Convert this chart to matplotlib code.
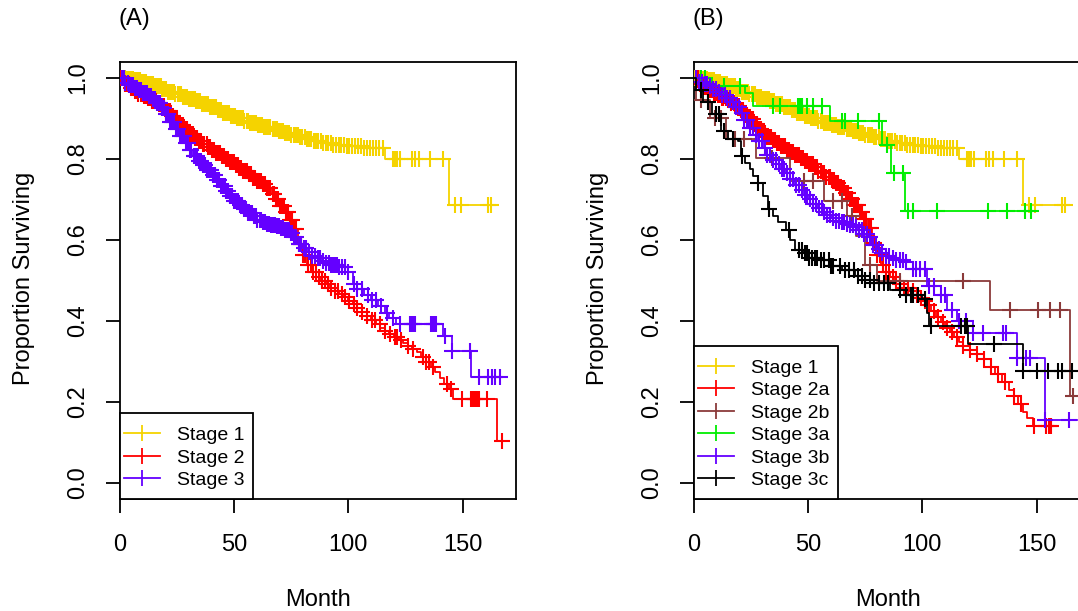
import numpy as np
import matplotlib
matplotlib.use("Agg")
import matplotlib.pyplot as plt
from matplotlib.lines import Line2D
from matplotlib.patches import Rectangle

plt.rcParams['font.family'] = ['Liberation Sans', 'DejaVu Sans']

# ---------------- data: panel A ----------------
a_s1_t = [0, 3, 6, 9, 12, 15, 18, 21, 24, 27, 30, 33, 36, 39, 42, 45, 48, 51, 54, 57, 60, 63, 66, 69,
          72, 75, 78, 81, 84, 88, 93, 99, 106, 116, 144]
a_s1_s = [1.0, 0.997, 0.994, 0.99, 0.985, 0.979, 0.972, 0.966, 0.96, 0.954, 0.949, 0.943, 0.935, 0.927,
          0.92, 0.913, 0.906, 0.9, 0.894, 0.889, 0.884, 0.879, 0.874, 0.869, 0.865, 0.86, 0.855, 0.849,
          0.844, 0.84, 0.835, 0.831, 0.827, 0.80, 0.685]
a_s1_end = 164.7
a_s1_cens = [0.6, 1.4, 2.3, 3.1, 3.8, 4.7, 5.5, 6.2, 7.1, 7.9, 8.8, 9.6, 10.3, 11.2, 12.0, 12.9, 13.7, 14.4,
             15.3, 16.1, 17.0, 17.8, 18.5, 19.4, 20.2, 21.1, 21.9, 22.6, 23.5, 24.3, 25.2, 26.0, 26.8, 27.6,
             28.5, 29.3, 30.1, 31.0, 31.8, 32.7, 33.5, 34.3, 35.2, 36.0, 36.8, 37.7, 38.5, 39.4, 40.2, 41.0,
             41.9, 42.7, 43.6, 44.4, 45.2, 46.1, 46.9, 47.8, 48.6, 49.4, 50.3, 51.1, 52.0, 52.8, 53.7, 54.5,
             55.4, 56.2, 57.1, 58.0, 58.8, 59.7, 60.6, 61.4, 62.3, 63.2, 64.1, 65.0, 65.9, 66.8, 67.7, 68.6,
             69.5, 70.4, 71.3, 72.3, 73.2, 74.1, 75.0, 76.0, 76.9, 77.9, 78.8, 79.8, 80.8, 81.8, 82.8, 83.8,
             84.8, 85.8, 86.9, 87.9, 89.0, 90.1, 91.2, 92.3, 93.4, 94.5, 95.7, 96.8, 98.0, 99.2, 100.4,
             101.6, 102.9, 104.1, 105.4, 106.7, 108.0, 109.4, 110.8, 112.2, 113.6, 115.0, 119.6, 120.6,
             121.5, 122.7, 128.0, 129.0, 131.0, 135.8, 141.5, 146.5, 149.5, 161.0, 162.5]

a_s2_t = [0, 2, 4, 6, 8, 10, 12, 14, 16, 18, 20, 22, 24, 26, 28, 30, 32, 34, 36, 38, 40, 42, 44, 46, 48,
          50, 52, 54, 56, 58, 60, 62, 64, 66, 68, 70, 72, 74, 76, 78, 80, 82, 84, 86, 88, 90, 92, 94, 96,
          98, 100, 102, 104, 106, 108, 110, 112, 114, 116, 118, 120, 122, 124, 126, 128, 130, 132, 134,
          136, 138, 140, 142, 144, 146, 165]
a_s2_s = [1.0, 0.985, 0.976, 0.968, 0.961, 0.955, 0.95, 0.944, 0.938, 0.93, 0.918, 0.907, 0.896, 0.884,
          0.873, 0.862, 0.852, 0.845, 0.837, 0.829, 0.821, 0.814, 0.807, 0.8, 0.793, 0.785, 0.777, 0.769,
          0.762, 0.754, 0.746, 0.738, 0.727, 0.714, 0.7, 0.684, 0.668, 0.65, 0.628, 0.59, 0.562, 0.538,
          0.52, 0.508, 0.499, 0.49, 0.481, 0.474, 0.466, 0.458, 0.45, 0.441, 0.432, 0.423, 0.413, 0.403,
          0.393, 0.383, 0.375, 0.367, 0.359, 0.352, 0.345, 0.338, 0.331, 0.322, 0.31, 0.298, 0.287, 0.274,
          0.26, 0.245, 0.232, 0.206, 0.103]
a_s2_end = 168.5
a_s2_cens = [0.5, 1.3, 2.2, 3.0, 3.9, 4.7, 5.6, 6.4, 7.3, 8.1, 9.0, 9.8, 10.7, 11.5, 12.4, 13.2, 14.1, 14.9,
             15.8, 16.6, 17.5, 18.3, 19.2, 20.0, 20.9, 21.7, 22.6, 23.4, 24.3, 25.1, 26.0, 26.8, 27.7, 28.5,
             29.4, 30.2, 31.1, 31.9, 32.8, 33.6, 34.5, 35.3, 36.2, 37.0, 37.9, 38.7, 39.6, 40.4, 41.3, 42.1,
             43.0, 43.8, 44.7, 45.5, 46.4, 47.2, 48.1, 48.9, 49.8, 50.6, 51.5, 52.3, 53.2, 54.0, 54.9, 55.7,
             56.6, 57.4, 58.3, 59.1, 60.0, 60.8, 61.7, 62.5, 63.4, 64.2, 65.1, 65.9, 66.8, 67.6, 68.5, 69.3,
             70.2, 71.0, 71.9, 72.7, 73.6, 74.4, 75.3, 76.1, 77.0, 78.2, 79.1, 80.3, 81.2, 82.4, 83.6, 84.5,
             85.9, 87.0, 88.4, 89.6, 91.0, 92.5, 94.1, 95.6, 97.2, 98.7, 100.5, 102.3, 104.0, 106.1, 108.0,
             110.2, 111.5, 113.8, 116.0, 118.1, 120.4, 121.5, 123.0, 126.2, 128.3, 132.5, 134.0, 135.5,
             137.0, 143.0, 145.0, 149.7, 153.9, 154.8, 155.6, 156.4, 157.2, 160.6, 167.3]

a_s3_t = [0, 2, 4, 6, 8, 10, 12, 14, 16, 18, 20, 22, 24, 26, 28, 30, 32, 34, 36, 38, 40, 42, 44, 46, 48,
          50, 52, 54, 56, 58, 60, 62, 64, 66, 68, 70, 72, 74, 76, 78, 80, 82, 84, 86, 88, 90, 92, 96, 100,
          102, 104, 107, 110, 113, 116, 118, 121, 141.6, 145.3, 153.6]
a_s3_s = [1.0, 0.988, 0.982, 0.976, 0.97, 0.963, 0.955, 0.947, 0.938, 0.926, 0.91, 0.892, 0.874, 0.857,
          0.84, 0.823, 0.807, 0.795, 0.784, 0.773, 0.761, 0.747, 0.733, 0.72, 0.708, 0.697, 0.686, 0.675,
          0.666, 0.658, 0.65, 0.644, 0.64, 0.637, 0.634, 0.63, 0.624, 0.616, 0.608, 0.59, 0.579, 0.569,
          0.56, 0.554, 0.548, 0.543, 0.539, 0.532, 0.52, 0.49, 0.478, 0.465, 0.452, 0.437, 0.42, 0.408,
          0.391, 0.362, 0.325, 0.261]
a_s3_end = 167.0
a_s3_cens = [0.7, 1.6, 2.4, 3.3, 4.1, 5.0, 5.8, 6.7, 7.5, 8.4, 9.2, 10.1, 10.9, 11.8, 12.6, 13.5, 14.3, 15.2,
             16.0, 16.9, 17.7, 18.6, 19.4, 20.3, 21.1, 22.0, 22.8, 23.7, 24.5, 25.4, 26.2, 27.1, 27.9, 28.8,
             29.6, 30.5, 31.3, 32.2, 33.0, 33.9, 34.7, 35.6, 36.4, 37.3, 38.1, 39.0, 39.8, 40.7, 41.5, 42.4,
             43.2, 44.1, 44.9, 45.8, 46.6, 47.5, 48.3, 49.2, 50.0, 50.9, 51.7, 52.6, 53.4, 54.3, 55.1, 56.0,
             56.8, 57.7, 58.5, 59.4, 60.2, 61.1, 61.9, 62.8, 63.6, 64.5, 65.3, 66.2, 67.0, 67.9, 68.7, 69.6,
             70.4, 71.3, 72.1, 73.0, 73.8, 74.7, 75.5, 76.4, 77.2, 78.3, 79.4, 80.5, 81.6, 82.8, 84.0, 85.2,
             86.5, 87.7, 89.0, 90.2, 91.5, 92.4, 93.3, 94.2, 95.1, 96.0, 97.2, 98.5, 100.0, 102.5, 104.0,
             106.0, 108.5, 110.5, 112.0, 114.5, 117.0, 119.5, 122.6, 127.0, 127.8, 128.6, 129.4, 136.0,
             136.8, 137.6, 138.4, 142.5, 145.5, 153.2, 157.0, 161.3, 162.8, 164.3, 166.4]

# ---------------- data: panel B ----------------
b_s1_t = a_s1_t
b_s1_s = a_s1_s
b_s1_end = a_s1_end
b_s1_cens = a_s1_cens

b_s2a_t = [0, 2, 4, 6, 8, 10, 12, 14, 16, 18, 20, 22, 24, 26, 28, 30, 32, 34, 36, 38, 40, 42, 44, 46, 48,
           50, 52, 54, 56, 58, 60, 62, 64, 66, 68, 70, 72, 74, 76, 78, 80, 82, 84, 86, 88, 90, 92, 94, 96,
           98, 100, 102, 104, 106, 108, 110, 112, 114, 116, 118, 121, 124, 127, 130, 132, 135, 138, 140,
           142, 144, 146, 148.6]
b_s2a_s = [1.0, 0.986, 0.978, 0.97, 0.963, 0.957, 0.951, 0.945, 0.939, 0.931, 0.92, 0.909, 0.898, 0.886,
           0.875, 0.864, 0.854, 0.847, 0.839, 0.831, 0.823, 0.816, 0.809, 0.802, 0.795, 0.787, 0.779,
           0.771, 0.764, 0.756, 0.748, 0.74, 0.729, 0.716, 0.702, 0.686, 0.67, 0.652, 0.63, 0.592,
           0.563, 0.538, 0.52, 0.508, 0.499, 0.49, 0.481, 0.473, 0.465, 0.457, 0.449, 0.438, 0.425,
           0.41, 0.396, 0.383, 0.372, 0.36, 0.348, 0.338, 0.328, 0.318, 0.305, 0.285, 0.268, 0.25, 0.228,
           0.214, 0.195, 0.175, 0.16, 0.14]
b_s2a_end = 158.9
b_s2a_cens = [0.8, 1.7, 2.5, 3.4, 4.3, 5.1, 6.0, 6.9, 7.7, 8.6, 9.5, 10.3, 11.2, 12.1, 12.9, 13.8, 14.7,
              15.5, 16.4, 17.3, 18.1, 19.0, 19.9, 20.7, 21.6, 22.5, 23.3, 24.2, 25.1, 25.9, 26.8, 27.7,
              28.5, 29.4, 30.3, 31.1, 32.0, 32.9, 33.7, 34.6, 35.5, 36.3, 37.2, 38.1, 38.9, 39.8, 40.7,
              41.5, 42.4, 43.3, 44.1, 45.0, 45.9, 46.7, 47.6, 48.5, 49.3, 50.2, 51.1, 51.9, 52.8, 53.7,
              54.5, 55.4, 56.3, 57.1, 58.0, 58.9, 59.7, 60.6, 61.5, 62.3, 63.2, 64.1, 64.9, 65.8, 66.7,
              67.5, 68.4, 69.3, 70.1, 71.0, 71.9, 72.7, 73.6, 74.5, 75.4, 76.5, 77.6, 78.8, 80.0, 81.3,
              82.6, 84.0, 85.5, 87.0, 88.6, 90.2, 92.0, 93.8, 95.7, 97.6, 99.5, 101.0, 103.0, 105.0, 107.0,
              109.0, 111.0, 113.0, 115.0, 118.0, 121.0, 124.0, 127.0, 130.0, 133.0, 136.0, 140.0, 143.0,
              148.8, 154.0, 155.4, 156.2]

b_s2b_t = [0, 1, 7, 14, 27, 42, 57, 67, 71, 75, 80, 129.7, 164.7]
b_s2b_s = [1.0, 0.946, 0.90, 0.848, 0.802, 0.745, 0.695, 0.66, 0.609, 0.539, 0.498, 0.428, 0.214]
b_s2b_end = 166.5
b_s2b_cens = [3.0, 9.0, 12.0, 18.0, 22.0, 34.0, 48.0, 52.0, 61.0, 65.0, 69.0, 77.0, 90.0, 118.0,
              138.4, 150.8, 155.9, 160.3, 166.0]

b_s3a_t = [0, 8, 22.5, 26, 59.6, 82.2, 86.1, 92.2]
b_s3a_s = [1.0, 0.98, 0.963, 0.93, 0.893, 0.835, 0.765, 0.671]
b_s3a_end = 147.8
b_s3a_cens = [3.0, 5.0, 13.0, 20.0, 34.6, 37.7, 45.5, 46.5, 47.3, 49.5, 52.0, 56.0, 64.8, 66.3, 72.0,
              80.8, 84.4, 87.5, 91.7, 93.9, 96.1, 106.3, 128.9, 136.9, 145.0, 147.5]

b_s3b_t = [0, 2, 4, 6, 8, 10, 12, 14, 16, 18, 20, 22, 24, 26, 28, 30, 32, 34, 36, 38, 40, 42, 44, 46, 48,
           50, 52, 54, 56, 58, 60, 62, 64, 66, 68, 70, 72, 74, 76, 78, 80, 82, 84, 86, 88, 92, 96, 102,
           108, 111, 115, 122.3, 141.3, 153.7]
b_s3b_s = [1.0, 0.99, 0.985, 0.979, 0.973, 0.966, 0.958, 0.95, 0.941, 0.929, 0.913, 0.895, 0.877, 0.86,
           0.843, 0.826, 0.81, 0.798, 0.787, 0.776, 0.764, 0.75, 0.736, 0.723, 0.711, 0.7, 0.689, 0.678,
           0.669, 0.661, 0.653, 0.647, 0.643, 0.64, 0.636, 0.631, 0.624, 0.615, 0.606, 0.588, 0.578,
           0.568, 0.56, 0.555, 0.551, 0.545, 0.527, 0.485, 0.465, 0.428, 0.40, 0.37, 0.309, 0.155]
b_s3b_end = 167.6
b_s3b_cens = [0.9, 2.1, 3.4, 4.6, 5.9, 7.1, 8.4, 9.6, 10.9, 12.1, 13.4, 14.6, 15.9, 17.1, 18.4, 19.6,
              20.9, 22.1, 23.4, 24.6, 25.9, 27.1, 28.4, 29.6, 30.9, 32.1, 33.4, 34.6, 35.9, 37.1, 38.4,
              39.6, 40.9, 42.1, 43.4, 44.6, 45.9, 47.1, 48.4, 49.6, 50.9, 52.1, 53.4, 54.6, 55.9, 57.1,
              58.4, 59.6, 60.9, 62.1, 63.4, 64.6, 65.9, 67.1, 68.4, 69.6, 70.9, 72.1, 73.4, 74.6, 75.9,
              77.1, 78.4, 79.6, 81.0, 82.5, 84.0, 85.5, 87.0, 88.5, 90.0, 91.5, 93.0, 96.0, 97.0, 99.0,
              101.0, 103.0, 105.0, 108.0, 110.0, 113.0, 116.0, 119.0, 122.3, 126.5, 135.3, 136.7, 141.3,
              145.6, 147.1, 153.7, 164.4]

b_s3c_t = [0, 1, 4, 8, 12, 15, 19.3, 20.6, 22.5, 24.5, 26, 28, 30, 32.4, 34.5, 36.8, 40.3, 42, 44.2,
           47.7, 50, 55, 60, 65, 70.5, 75, 79, 86, 93, 100, 102, 103, 120.2, 144.2]
b_s3c_s = [1.0, 0.97, 0.94, 0.91, 0.87, 0.85, 0.843, 0.806, 0.79, 0.774, 0.757, 0.741, 0.708, 0.675,
           0.66, 0.643, 0.625, 0.6, 0.576, 0.568, 0.556, 0.55, 0.535, 0.525, 0.51, 0.50, 0.493, 0.477,
           0.465, 0.453, 0.42, 0.387, 0.344, 0.276]
b_s3c_end = 165.4
b_s3c_cens = [3.0, 6.0, 9.5, 11.0, 13.0, 17.0, 21.0, 28.0, 33.0, 41.5, 46.0, 47.5, 48.5, 49.5, 50.5,
              51.5, 53.0, 54.0, 55.5, 57.0, 59.0, 60.0, 61.0, 64.0, 66.0, 68.0, 70.0, 72.0, 73.5, 75.0,
              77.0, 79.0, 81.0, 83.0, 85.0, 90.0, 93.0, 95.0, 96.0, 98.0, 101.0, 104.0, 117.0, 118.5,
              119.5, 131.4, 144.2, 150.4, 155.2, 159.6, 161.0, 165.4]

labels_a = ["Stage 1", "Stage 2", "Stage 3"]
labels_b = ["Stage 1", "Stage 2a", "Stage 2b", "Stage 3a", "Stage 3b", "Stage 3c"]
x_ticks = [0, 50, 100, 150]
y_ticks = [0.0, 0.2, 0.4, 0.6, 0.8, 1.0]

C_Y = '#F5D300'
C_R = '#FF0000'
C_P = '#6400FF'
C_BR = '#8B3A3A'
C_G = '#00EE00'
C_K = '#000000'

series_a = [(a_s1_t, a_s1_s, a_s1_end, a_s1_cens, C_Y),
            (a_s2_t, a_s2_s, a_s2_end, a_s2_cens, C_R),
            (a_s3_t, a_s3_s, a_s3_end, a_s3_cens, C_P)]
series_b = [(b_s1_t, b_s1_s, b_s1_end, b_s1_cens, C_Y),
            (b_s2a_t, b_s2a_s, b_s2a_end, b_s2a_cens, C_R),
            (b_s2b_t, b_s2b_s, b_s2b_end, b_s2b_cens, C_BR),
            (b_s3a_t, b_s3a_s, b_s3a_end, b_s3a_cens, C_G),
            (b_s3b_t, b_s3b_s, b_s3b_end, b_s3b_cens, C_P),
            (b_s3c_t, b_s3c_s, b_s3c_end, b_s3c_cens, C_K)]

W, H = 1078, 611
fig = plt.figure(figsize=(W / 100, H / 100), dpi=100)

FS = 17
LFS = 14
LW = 1.3
MEW = 1.5
MS = 12

# legend frame paddings in pixels (left, right, top, bottom)
PAD_L, PAD_R, PAD_T, PAD_B = 4, 8, 13, 10


def km(ax, t, s, end, cens, color):
    t = np.asarray(t, float)
    s = np.asarray(s, float)
    tt = np.append(t, end)
    ss = np.append(s, s[-1])
    ax.step(tt, ss, where='post', color=color, lw=LW, zorder=3)
    c = np.asarray(cens, float)
    idx = np.searchsorted(t, c, side='right') - 1
    ax.plot(c, s[idx], ls='none', marker='+', ms=MS, mew=MEW, color=color, zorder=3)


def setup(ax, series, labels):
    for (t, s, end, cens, col) in series:
        km(ax, t, s, end, cens, col)
    ax.set_xlim(0, 173.5)
    ax.set_ylim(-0.04, 1.04)
    ax.set_xticks(x_ticks)
    ax.set_xticklabels([str(v) for v in x_ticks])
    ax.set_yticks(y_ticks)
    ax.set_yticklabels(["%.1f" % v for v in y_ticks])
    ax.tick_params(axis='both', length=10, width=LW, labelsize=FS, color='black')
    ax.tick_params(axis='x', pad=15)
    ax.tick_params(axis='y', pad=12)
    for lab in ax.get_yticklabels():
        lab.set_rotation(90)
        lab.set_va('center')
    for sp in ax.spines.values():
        sp.set_linewidth(LW)
    handles = [Line2D([0], [0], color=col, lw=LW, marker='|', ms=MS, mew=LW)
               for (_, _, _, _, col) in series]
    bb = ax.get_window_extent()
    leg = ax.legend(handles, labels, loc='lower left',
                    bbox_to_anchor=(PAD_L / bb.width, PAD_B / bb.height),
                    borderaxespad=0, frameon=False, fontsize=LFS, handlelength=1.85,
                    handletextpad=0.88, labelspacing=0.25, borderpad=0)
    leg.set_zorder(6)
    return leg


ax_w = 396.2 / W
ax_b = 1 - 499 / H
ax_h = (499 - 61.7) / H
axA = fig.add_axes([120 / W, ax_b, ax_w, ax_h])
axB = fig.add_axes([694 / W, ax_b, ax_w, ax_h])
legA = setup(axA, series_a, labels_a)
legB = setup(axB, series_b, labels_b)

fig.canvas.draw()
renderer = fig.canvas.get_renderer()
for ax, leg in ((axA, legA), (axB, legB)):
    lb = leg.get_window_extent(renderer)
    ab = ax.get_window_extent(renderer)
    w = (lb.x1 + PAD_R - ab.x0) / ab.width
    h = (lb.y1 + PAD_T - ab.y0) / ab.height
    ax.add_patch(Rectangle((0, 0), w, h, transform=ax.transAxes, facecolor='white',
                           edgecolor='black', lw=LW, zorder=5, clip_on=False))

fig.text(119 / W, 1 - 19 / H, "(A)", fontsize=FS, ha='left', va='center')
fig.text(693 / W, 1 - 19 / H, "(B)", fontsize=FS, ha='left', va='center')
fig.text(24 / W, 1 - 278 / H, "Proportion Surviving", fontsize=FS, rotation=90,
         ha='center', va='center')
fig.text(598 / W, 1 - 278 / H, "Proportion Surviving", fontsize=FS, rotation=90,
         ha='center', va='center')
fig.text(318 / W, 1 - 600 / H, "Month", fontsize=FS, ha='center', va='center')
fig.text(888 / W, 1 - 600 / H, "Month", fontsize=FS, ha='center', va='center')

fig.savefig("out.png", dpi=100)
